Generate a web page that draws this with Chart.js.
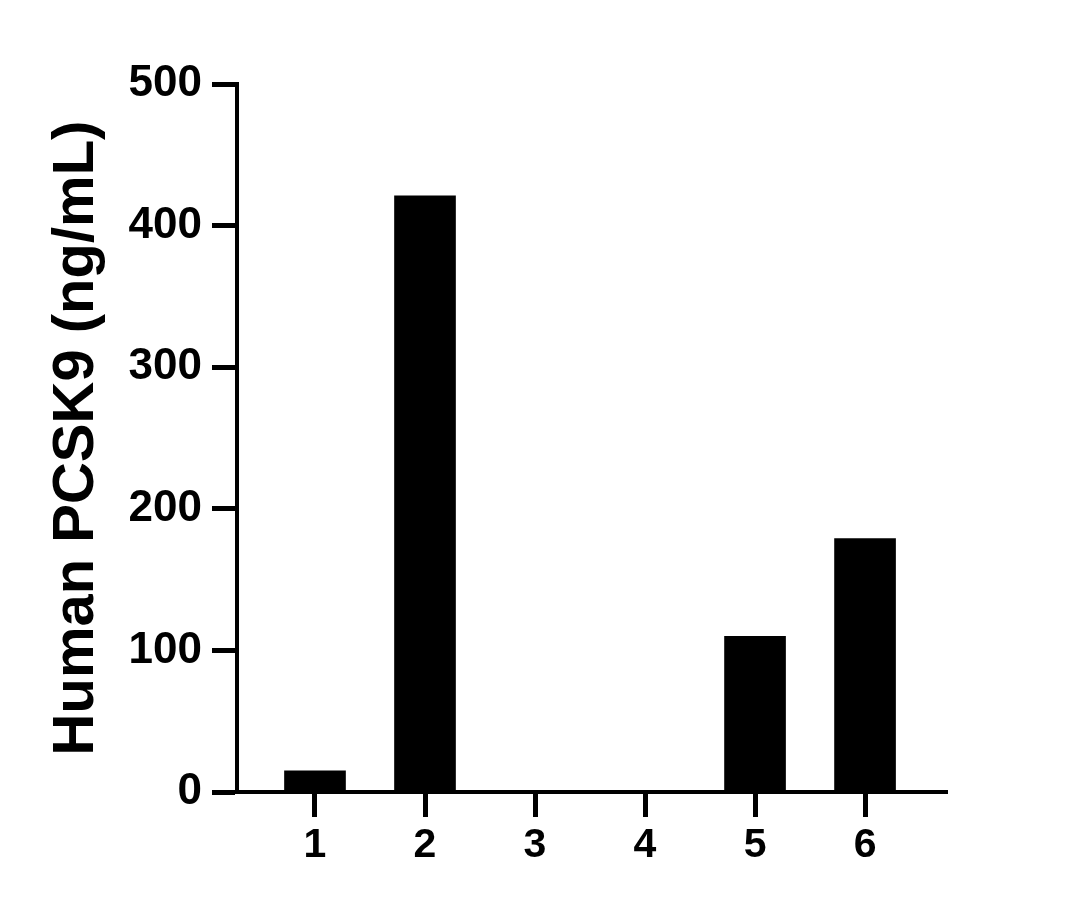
<!DOCTYPE html>
<html>
<head>
<meta charset="utf-8">
<title>Human PCSK9</title>
<script src="https://cdn.jsdelivr.net/npm/chart.js"></script>
<style>
    html, body { margin: 0; padding: 0; background: #fff; }
    #wrap { width: 1078px; height: 909px; }
</style>
</head>
<body>
<div id="wrap"><canvas id="chart"></canvas></div>
<script>
// values
const categories = [1, 2, 3, 4, 5, 6];
const values = [15, 421, 0, 0, 110, 179];
const yTicks = [0, 100, 200, 300, 400, 500];
const yTitle = 'Human PCSK9 (ng/mL)';

const FONT = "'Liberation Sans', Arial, sans-serif";

const ctx = document.getElementById('chart').getContext('2d');
new Chart(ctx, {
    type: 'bar',
    data: {
        datasets: [{
            data: categories.map((c, i) => ({ x: c, y: values[i] })),
            backgroundColor: '#000',
            borderWidth: 0,
            barThickness: 61
        }]
    },
    options: {
        responsive: true,
        maintainAspectRatio: false,
        animation: false,
        layout: { padding: { top: 84, right: 131, bottom: 0, left: 0 } },
        plugins: { legend: { display: false }, tooltip: { enabled: false } },
        scales: {
            x: {
                type: 'linear',
                offset: false,
                min: 0.291,
                max: 6.745,
                afterBuildTicks: s => { s.ticks = categories.map(v => ({ value: v })); },
                afterFit: s => { s.height = 117; },
                grid: { offset: false, drawOnChartArea: false, drawTicks: true, tickLength: 25, tickWidth: 5, tickColor: '#000' },
                border: { display: true, color: '#000', width: 4 },
                ticks: {
                    color: '#000',
                    padding: 8,
                    maxRotation: 0,
                    font: { family: FONT, size: 41, weight: 'bold', lineHeight: 1 }
                }
            },
            y: {
                min: 0,
                max: 500,
                afterBuildTicks: s => { s.ticks = yTicks.map(v => ({ value: v })); },
                afterFit: s => { s.width = 237; },
                grid: { drawOnChartArea: false, drawTicks: true, tickLength: 25, tickWidth: 5, tickColor: '#000' },
                border: { display: true, color: '#000', width: 4 },
                ticks: {
                    color: '#000',
                    padding: 10,
                    font: { family: FONT, size: 44, weight: 'bold', lineHeight: 1 }
                },
                title: {
                    display: true,
                    text: yTitle,
                    color: '#000',
                    padding: { top: 48, bottom: 0 },
                    font: { family: FONT, size: 58, weight: 'bold', lineHeight: 1 }
                }
            }
        }
    }
});
</script>
</body>
</html>
